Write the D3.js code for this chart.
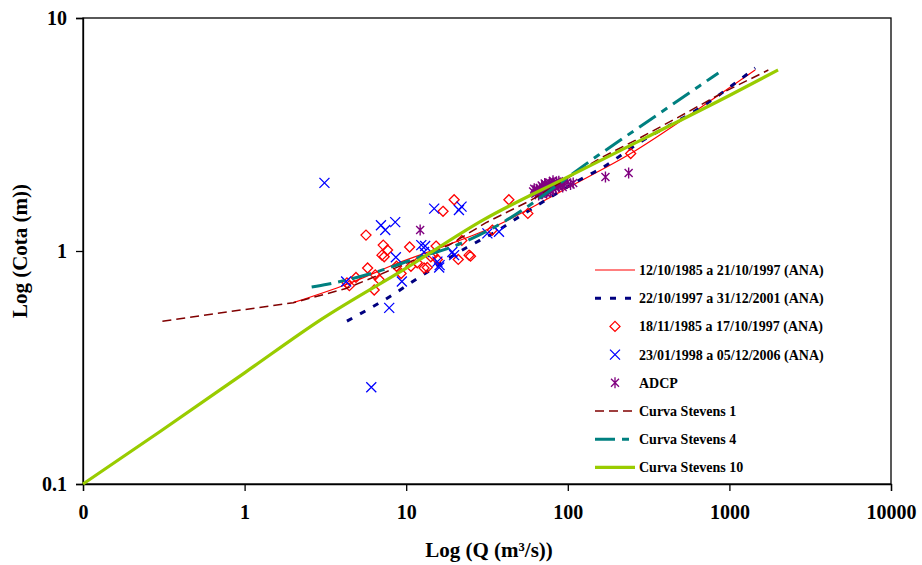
<!DOCTYPE html>
<html>
<head>
<meta charset="utf-8">
<script src="https://cdn.jsdelivr.net/npm/d3@7"></script>
<style>
  body { margin: 0; background: #fff; }
  svg text { font-family: "Liberation Serif", "Times New Roman", serif; font-weight: bold; fill: #000; }
</style>
</head>
<body>
<svg id="chart" width="922" height="565"></svg>
<script>
// tick labels
var xTicks = [0.1, 1, 10, 100, 1000, 10000];
var xTickLabels = ["0", "1", "10", "100", "1000", "10000"];
var yTicks = [0.1, 1, 10];
var yTickLabels = ["0.1", "1", "10"];

// series names
var seriesNames = ["12/10/1985 a 21/10/1997 (ANA)", "22/10/1997 a 31/12/2001 (ANA)",
  "18/11/1985 a 17/10/1997 (ANA)", "23/01/1998 a 05/12/2006 (ANA)", "ADCP",
  "Curva Stevens 1", "Curva Stevens 4", "Curva Stevens 10"];

// rating curves (Q, H)
var ana1Q = [2, 4.3, 9, 16, 37.5, 100, 245, 671, 1445];
var ana1H = [0.60, 0.72, 0.89, 1.03, 1.30, 1.87, 2.62, 4.15, 5.98];
var ana2Q = [4.3, 7.85, 12, 23.4, 35.8, 49.9, 128, 155, 286, 671, 1445];
var ana2H = [0.50, 0.635, 0.77, 1.03, 1.21, 1.40, 2.08, 2.23, 2.96, 4.15, 6.1];
var stev1Q = [0.31, 2, 4.24, 6.81, 18.4, 31, 60, 160, 263, 500, 893, 1742];
var stev1H = [0.50, 0.60, 0.69, 0.79, 1.06, 1.32, 1.66, 2.51, 2.99, 3.80, 4.75, 5.98];
var stev4Q = [2.6, 3.25, 6.81, 12, 19.2, 34, 155, 855];
var stev4H = [0.70, 0.72, 0.82, 0.94, 1.04, 1.25, 2.58, 5.81];
var stev10Q = [0.1, 0.3, 1, 3, 10, 30, 100, 300, 1000, 2000];
var stev10H = [0.1, 0.168, 0.30, 0.51, 0.845, 1.36, 2.08, 3.05, 4.65, 5.98];

// measurements (Q, H)
var diamQ = [5.64, 7.21, 7.67, 7.08, 7.31, 10.5, 5.77, 4.89, 6.44, 6.81, 4.45, 6.34, 8.71, 10.7, 11.7,
  12.9, 13.5, 14.2, 15.3, 14.7, 15.6, 19.8, 16.9, 22.1, 21.0, 24.5, 25, 34.1, 43.2, 56.6, 245, 9.3, 4.3];
var diamH = [1.17, 1.06, 1.01, 0.96, 0.945, 1.04, 0.845, 0.77, 0.79, 0.755, 0.71, 0.68, 0.86, 0.86, 0.89,
  0.845, 0.85, 0.945, 1.05, 0.96, 0.92, 1.66, 1.48, 1.11, 0.92, 0.96, 0.95, 1.23, 1.66, 1.45, 2.62, 0.80, 0.73];
var crossQ = [3.12, 6.08, 6.98, 7.42, 8.55, 7.85, 9.4, 8.63, 4.25, 14.9, 21.2, 22, 12.4, 12.9, 13.1,
  15.6, 16, 16.1, 19.3, 19.8, 31.8, 37.5];
var crossH = [1.96, 0.26, 1.29, 1.23, 1.33, 0.57, 0.74, 0.94, 0.74, 1.52, 1.50, 1.55, 1.06, 0.99, 1.05,
  0.90, 0.85, 0.87, 0.99, 0.96, 1.19, 1.21];
var adcpQ = [12.2, 171, 238, 61, 63, 64, 66, 67, 68, 69, 70, 71, 72, 73, 74, 75, 76, 77, 78, 79, 80, 81,
  82, 83, 84, 86, 88, 90, 92, 95, 99, 66, 70, 74, 78, 85, 88, 72, 62, 65, 69, 73, 77, 81, 93, 104, 108];
var adcpH = [1.23, 2.08, 2.16, 1.80, 1.76, 1.84, 1.79, 1.86, 1.82, 1.76, 1.88, 1.83, 1.79, 1.90, 1.85, 1.81,
  1.92, 1.87, 1.83, 1.94, 1.89, 1.85, 1.96, 1.91, 1.87, 1.93, 1.89, 1.96, 1.92, 1.95, 1.97, 1.74, 1.78,
  1.77, 1.80, 1.98, 1.99, 1.95, 1.85, 1.82, 1.91, 1.93, 1.97, 2.00, 1.88, 1.93, 1.96];

function pairs(q, h) { return q.map(function(v, i) { return {q: v, h: h[i]}; }); }

function createChart() {
  var svg = d3.select("#chart");
  var pLeft = 83, pRight = 891, pTop = 18, pBottom = 484;

  var x = d3.scaleLog().domain([0.1, 10000]).range([pLeft, pRight]);
  var y = d3.scaleLog().domain([0.1, 10]).range([pBottom, pTop]);

  // plot box
  svg.append("rect")
    .attr("x", pLeft).attr("y", pTop)
    .attr("width", pRight - pLeft).attr("height", pBottom - pTop)
    .attr("fill", "none").attr("stroke", "#000").attr("stroke-width", 1.3);

  var xAxis = svg.append("g")
    .attr("transform", "translate(0," + pBottom + ")")
    .call(d3.axisBottom(x).tickValues(xTicks).tickSizeOuter(0).tickSize(7).tickPadding(14)
      .tickFormat(function(d, i) { return xTickLabels[i]; }));
  var yAxis = svg.append("g")
    .attr("transform", "translate(" + pLeft + ",0)")
    .call(d3.axisLeft(y).tickValues(yTicks).tickSizeOuter(0).tickSize(7).tickPadding(9)
      .tickFormat(function(d, i) { return yTickLabels[i]; }));
  [xAxis, yAxis].forEach(function(a) {
    a.selectAll("text").style("font-size", "20px").style("font-family", "Liberation Serif, serif").style("font-weight", "bold");
    a.selectAll("line, path").attr("stroke", "#000").attr("stroke-width", 1.3);
  });

  svg.append("text")
    .attr("x", (pLeft + pRight) / 2 + 2).attr("y", 557)
    .attr("text-anchor", "middle").style("font-size", "21px")
    .text("Log (Q (m³/s))");
  svg.append("text")
    .attr("transform", "translate(27," + (pTop + pBottom) / 2 + ") rotate(-90)")
    .attr("text-anchor", "middle").style("font-size", "21px")
    .text("Log (Cota (m))");

  var smooth = d3.line().x(function(d) { return x(d.q); }).y(function(d) { return y(d.h); })
    .curve(d3.curveMonotoneX);
  var straight = d3.line().x(function(d) { return x(d.q); }).y(function(d) { return y(d.h); });

  var styles = [
    {color: "#FF0000", width: 1.2, dash: null},
    {color: "#000080", width: 3, dash: "6,9"},
    null, null, null,
    {color: "#800000", width: 1.5, dash: "9,5"},
    {color: "#008080", width: 3, dash: "20,7,7,7"},
    {color: "#99CC00", width: 3.2, dash: null}
  ];

  function drawLine(data, s, gen) {
    svg.append("path").datum(data)
      .attr("d", gen || smooth)
      .attr("fill", "none")
      .attr("stroke", s.color)
      .attr("stroke-width", s.width)
      .attr("stroke-dasharray", s.dash);
  }

  var diamond = "M0,-5L5,0L0,5L-5,0Z";
  var cross = "M-5,-5L5,5M-5,5L5,-5";
  var star = "M-4,-4L4,4M-4,4L4,-4M0,-5.5L0,5.5";

  function drawPoints(data, shape, color, w) {
    svg.append("g").selectAll("path")
      .data(data).enter().append("path")
      .attr("transform", function(d) { return "translate(" + x(d.q) + "," + y(d.h) + ")"; })
      .attr("d", shape)
      .attr("fill", "none")
      .attr("stroke", color)
      .attr("stroke-width", w);
  }

  drawLine(pairs(ana1Q, ana1H), styles[0]);
  drawLine(pairs(ana2Q, ana2H), styles[1]);
  drawPoints(pairs(diamQ, diamH), diamond, "#FF0000", 1.3);
  drawPoints(pairs(crossQ, crossH), cross, "#0000FF", 1.3);
  drawPoints(pairs(adcpQ, adcpH), star, "#800080", 1.4);
  drawLine(pairs(stev1Q, stev1H), styles[5], straight);
  drawLine(pairs(stev4Q, stev4H), styles[6]);
  drawLine(pairs(stev10Q, stev10H), styles[7]);

  // legend
  var lg = svg.append("g");
  var markers = [null, null, {s: diamond, c: "#FF0000"}, {s: cross, c: "#0000FF"}, {s: star, c: "#800080"}];
  seriesNames.forEach(function(name, i) {
    var yy = 270 + i * 28.2;
    if (styles[i]) {
      lg.append("line").attr("x1", 595).attr("x2", 635).attr("y1", yy).attr("y2", yy)
        .attr("stroke", styles[i].color).attr("stroke-width", styles[i].width)
        .attr("stroke-dasharray", styles[i].dash);
    } else {
      lg.append("path").attr("transform", "translate(615," + yy + ")")
        .attr("d", markers[i].s).attr("fill", "none").attr("stroke", markers[i].c).attr("stroke-width", 1.3);
    }
    lg.append("text").attr("x", 639).attr("y", yy + 5).style("font-size", "14px").text(name);
  });
}
createChart();
</script>
</body>
</html>
